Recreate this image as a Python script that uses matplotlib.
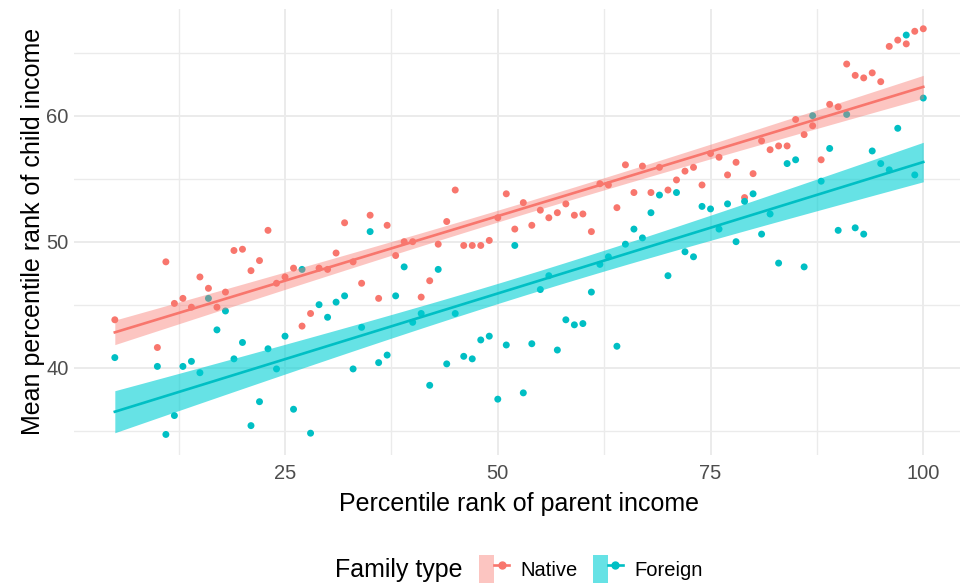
import numpy as np
import matplotlib
matplotlib.use("Agg")
import matplotlib.pyplot as plt
from matplotlib.patches import Patch
from matplotlib.lines import Line2D
from matplotlib.legend_handler import HandlerTuple

plt.rcParams['font.family'] = ['Liberation Sans', 'DejaVu Sans']

# percentile rank of parent income (x) -- 5 and then 10..100
parent_rank = np.r_[5, np.arange(10, 101)]

native = [43.8,
          41.6, 48.4, 45.1, 45.5, 44.8, 47.2, 46.3, 44.8, 46.0, 49.3,
          49.4, 47.7, 48.5, 50.9, 46.7, 47.2, 47.9, 43.3, 44.3, 47.9,
          47.8, 49.1, 51.5, 48.4, 46.7, 52.1, 45.5, 51.3, 48.9, 50.0,
          50.0, 45.6, 46.9, 49.8, 51.6, 54.1, 49.7, 49.7, 49.7, 50.1,
          51.9, 53.8, 51.0, 53.1, 51.3, 52.5, 51.9, 52.3, 53.0, 52.1,
          52.2, 50.8, 54.6, 54.5, 52.7, 56.1, 53.9, 56.0, 53.9, 55.9,
          54.1, 54.9, 55.6, 55.9, 54.5, 57.0, 56.7, 55.3, 56.3, 53.5,
          55.4, 58.0, 57.3, 57.6, 57.6, 59.7, 58.5, 59.2, 56.5, 60.9,
          60.7, 64.1, 63.2, 63.0, 63.4, 62.7, 65.5, 66.0, 65.7, 66.7,
          66.9]

foreign = [40.8,
           40.1, 34.7, 36.2, 40.1, 40.5, 39.6, 45.5, 43.0, 44.5, 40.7,
           42.0, 35.4, 37.3, 41.5, 39.9, 42.5, 36.7, 47.8, 34.8, 45.0,
           44.0, 45.2, 45.7, 39.9, 43.2, 50.8, 40.4, 41.0, 45.7, 48.0,
           43.6, 44.3, 38.6, 47.8, 40.3, 44.3, 40.9, 40.7, 42.2, 42.5,
           37.5, 41.8, 49.7, 38.0, 41.9, 46.2, 47.3, 41.4, 43.8, 43.4,
           43.5, 46.0, 48.2, 48.8, 41.7, 49.8, 51.0, 50.3, 52.3, 53.7,
           47.3, 53.9, 49.2, 48.8, 52.8, 52.6, 51.0, 53.0, 50.0, 53.2,
           53.8, 50.6, 52.2, 48.3, 56.2, 56.5, 48.0, 60.0, 54.8, 57.4,
           50.9, 60.1, 51.1, 50.6, 57.2, 56.2, 55.7, 59.0, 66.4, 55.3,
           61.4]

groups = ["Native", "Foreign"]
colors = {"Native": "#F8766D", "Foreign": "#00BFC4"}
band_colors = {"Native": "#F8766D", "Foreign": "#00CFD4"}
band_alpha = {"Native": 0.42, "Foreign": 0.6}
series = {"Native": native, "Foreign": foreign}

T975 = 1.987  # t quantile, df = 90


def lm_band(x, y, grid):
    x = np.asarray(x, float)
    y = np.asarray(y, float)
    slope, icpt = np.polyfit(x, y, 1)
    resid = y - (icpt + slope * x)
    n = len(x)
    s = np.sqrt(np.sum(resid ** 2) / (n - 2))
    sxx = np.sum((x - x.mean()) ** 2)
    fit = icpt + slope * grid
    se = s * np.sqrt(1 / n + (grid - x.mean()) ** 2 / sxx)
    return fit, fit - T975 * se, fit + T975 * se


fig = plt.figure(figsize=(9.6, 5.87), dpi=100)
ax = fig.add_axes([74.4 / 960, 1 - 454.6 / 587, (963.7 - 74.4) / 960, (454.6 - 8.6) / 587])

grid = np.linspace(parent_rank.min(), parent_rank.max(), 80)
for g in groups:
    ax.scatter(parent_rank, series[g], s=25, color=colors[g], edgecolors="none", zorder=2)
for g in groups:
    fit, lo, hi = lm_band(parent_rank, series[g], grid)
    ax.fill_between(grid, lo, hi, color=band_colors[g], alpha=band_alpha[g], lw=0, zorder=3)
    ax.plot(grid, fit, color=colors[g], lw=1.9, zorder=4)

ax.set_xlim(0.25, 104.75)
ax.set_ylim(33.1, 68.5)
ax.set_xticks([25, 50, 75, 100])
ax.set_xticks([12.5, 37.5, 62.5, 87.5], minor=True)
ax.set_yticks([40, 50, 60])
ax.set_yticks([35, 45, 55, 65], minor=True)
ax.grid(which="major", color="#EBEBEB", lw=1.4)
ax.grid(which="minor", color="#EBEBEB", lw=1.0)
ax.set_axisbelow(True)
for sp in ax.spines.values():
    sp.set_visible(False)
ax.tick_params(which="both", length=0)
ax.tick_params(axis="x", pad=7, labelsize=14.5, labelcolor="#4D4D4D")
ax.tick_params(axis="y", pad=4, labelsize=14.5, labelcolor="#4D4D4D")

ax.set_xlabel("Percentile rank of parent income", fontsize=18, labelpad=6)
ax.set_ylabel("Mean percentile rank of child income", fontsize=18, labelpad=1)

# legend at the bottom, title on the left
fig.text(335 / 960, 1 - 570 / 587, "Family type", fontsize=18, va="center", ha="left")
handles = [(Patch(facecolor=band_colors[g], alpha=band_alpha[g], lw=0),
            Line2D([], [], color=colors[g], lw=1.9, marker="o", markersize=5))
           for g in groups]
fig.legend(handles, groups, handler_map={tuple: HandlerTuple(ndivide=None)},
           loc="center left", bbox_to_anchor=(469 / 960, 1 - 569 / 587), ncol=2,
           frameon=False, fontsize=14.5, handlelength=1.5, handleheight=1.75,
           handletextpad=0.55, columnspacing=0.75, borderpad=0, numpoints=1)

plt.savefig("out.png", dpi=100)
